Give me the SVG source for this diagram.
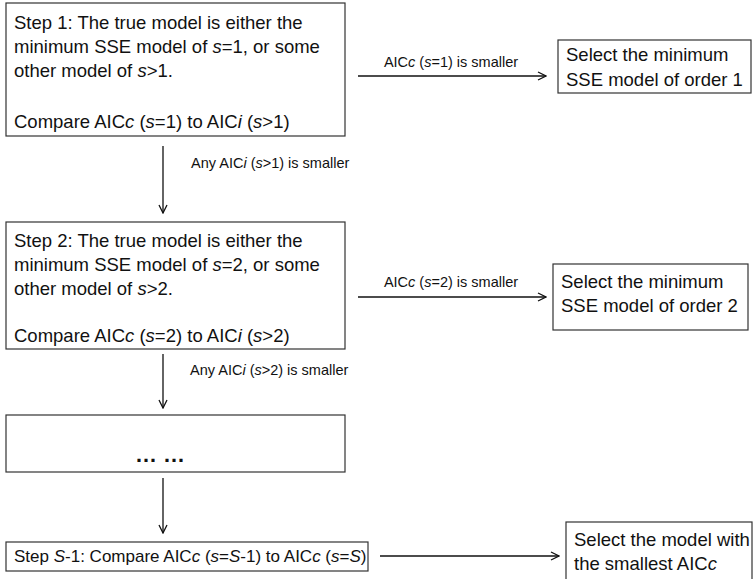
<svg xmlns="http://www.w3.org/2000/svg" width="753" height="579" viewBox="0 0 753 579">
<style>
  .box { fill: #ffffff; stroke: #333333; stroke-width: 1.2; }
  .t { font-family: "Liberation Sans", Arial, sans-serif; font-size: 18.5px; fill: #111111; }
  .ts { font-family: "Liberation Sans", Arial, sans-serif; font-size: 17px; fill: #111111; }
  .lbl { font-family: "Liberation Sans", Arial, sans-serif; font-size: 14.5px; fill: #111111; }
  .conn { stroke: #111111; stroke-width: 1.3; fill: none; marker-end: url(#arr); }
  .dots { font-family: "Liberation Sans", Arial, sans-serif; font-size: 22px; font-weight: bold; fill: #111111; }
</style>
<defs>
  <marker id="arr" viewBox="0 0 10 10" refX="9" refY="5" markerWidth="10" markerHeight="10" markerUnits="userSpaceOnUse" orient="auto">
    <path d="M1,1 L9,5 L1,9" fill="none" stroke="#111111" stroke-width="1.3"/>
  </marker>
</defs>
<rect width="753" height="579" fill="#ffffff"/>

<g id="step1">
  <rect class="box" x="6" y="3" width="339" height="133"/>
  <text class="t" x="14" y="29">Step 1: The true model is either the</text>
  <text class="t" x="14" y="53">minimum SSE model of <tspan font-style="italic">s</tspan>=1, or some</text>
  <text class="t" x="14" y="77">other model of <tspan font-style="italic">s</tspan>&gt;1.</text>
  <text class="t" x="14" y="128">Compare AIC<tspan font-style="italic">c</tspan> (<tspan font-style="italic">s</tspan>=1) to AIC<tspan font-style="italic">i</tspan> (<tspan font-style="italic">s</tspan>&gt;1)</text>
</g>

<g id="select1">
  <rect class="box" x="558" y="40" width="193" height="53"/>
  <text class="t" x="566" y="61">Select the minimum</text>
  <text class="t" x="566" y="86">SSE model of order 1</text>
</g>

<g id="step2">
  <rect class="box" x="6" y="222" width="339" height="127"/>
  <text class="t" x="14" y="247">Step 2: The true model is either the</text>
  <text class="t" x="14" y="271">minimum SSE model of <tspan font-style="italic">s</tspan>=2, or some</text>
  <text class="t" x="14" y="295">other model of <tspan font-style="italic">s</tspan>&gt;2.</text>
  <text class="t" x="14" y="342">Compare AIC<tspan font-style="italic">c</tspan> (<tspan font-style="italic">s</tspan>=2) to AIC<tspan font-style="italic">i</tspan> (<tspan font-style="italic">s</tspan>&gt;2)</text>
</g>

<g id="select2">
  <rect class="box" x="553" y="264" width="195" height="66"/>
  <text class="t" x="561" y="288">Select the minimum</text>
  <text class="t" x="561" y="312">SSE model of order 2</text>
</g>

<g id="ellipsis">
  <rect class="box" x="6" y="415" width="339" height="57"/>
  <text class="dots" x="160" y="462" text-anchor="middle">… …</text>
</g>

<g id="stepS1">
  <rect class="box" x="6" y="542" width="362" height="29"/>
  <text class="ts" x="14" y="562">Step <tspan font-style="italic">S</tspan>-1: Compare AIC<tspan font-style="italic">c</tspan> (<tspan font-style="italic">s</tspan>=<tspan font-style="italic">S</tspan>-1) to AIC<tspan font-style="italic">c</tspan> (<tspan font-style="italic">s</tspan>=<tspan font-style="italic">S</tspan>)</text>
</g>

<g id="selectFinal">
  <rect class="box" x="566" y="522" width="186" height="70"/>
  <text class="t" x="574" y="546">Select the model with</text>
  <text class="t" x="574" y="570">the smallest AIC<tspan font-style="italic">c</tspan></text>
</g>

<g id="connectors">
  <line class="conn" x1="358" y1="76" x2="546" y2="76"/>
  <text class="lbl" x="451" y="67" text-anchor="middle">AIC<tspan font-style="italic">c</tspan> (<tspan font-style="italic">s</tspan>=1) is smaller</text>

  <line class="conn" x1="163" y1="146" x2="163" y2="213"/>
  <text class="lbl" x="191" y="168">Any AIC<tspan font-style="italic">i</tspan> (<tspan font-style="italic">s</tspan>&gt;1) is smaller</text>

  <line class="conn" x1="358" y1="297" x2="546" y2="297"/>
  <text class="lbl" x="451" y="287" text-anchor="middle">AIC<tspan font-style="italic">c</tspan> (<tspan font-style="italic">s</tspan>=2) is smaller</text>

  <line class="conn" x1="163" y1="354" x2="163" y2="408"/>
  <text class="lbl" x="190" y="375">Any AIC<tspan font-style="italic">i</tspan> (<tspan font-style="italic">s</tspan>&gt;2) is smaller</text>

  <line class="conn" x1="163" y1="478" x2="163" y2="533"/>

  <line class="conn" x1="380" y1="556" x2="559" y2="556"/>
</g>
</svg>
